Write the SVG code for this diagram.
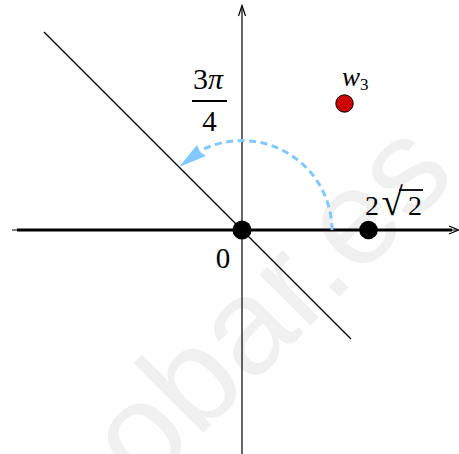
<svg xmlns="http://www.w3.org/2000/svg" width="459" height="454" viewBox="0 0 459 454">
<style>
.ax{stroke:#000;fill:none;stroke-width:1.2}
.math{font-family:"Liberation Serif","Times New Roman",serif;fill:#000}
.dot{fill:#000}
.wm{font-family:"Liberation Sans",Arial,sans-serif;fill:#f0f0f0}
</style>
<rect width="459" height="454" fill="#fff"/>
<g id="watermark">
<text class="wm" font-size="136" transform="translate(349,287) rotate(-45)" x="-291" y="0">obar.es</text>
</g>
<g id="connectors">
<line class="ax" x1="12" y1="230" x2="458" y2="230"/>
<line x1="17" y1="230" x2="452" y2="230" stroke="#000" stroke-width="3"/>
<polyline class="ax" points="449,226 458.5,230 449,234"/>
<line class="ax" x1="242" y1="454" x2="242" y2="6"/>
<polyline class="ax" points="238.5,16 242,5.5 245.5,16"/>
<line class="ax" x1="44" y1="32" x2="351" y2="339"/>
<path d="M332,230 A90,90 0 0 0 200,151" fill="none" stroke="#80c8ff" stroke-width="3" stroke-dasharray="7,4.5"/>
<polygon points="179,167 197,145 200,152 206,156" fill="#80c8ff"/>
</g>
<g id="origin">
<circle class="dot" cx="242" cy="230" r="9.5"/>
<text class="math" x="223" y="268" font-size="29" text-anchor="middle">0</text>
</g>
<g id="point-2sqrt2">
<circle class="dot" cx="368.5" cy="230" r="9.3"/>
<text class="math" x="365" y="214.5" font-size="28">2</text>
<text class="math" x="381.5" y="215" font-size="39">√</text>
<line x1="399" y1="190" x2="423" y2="190" stroke="#000" stroke-width="1.8"/>
<text class="math" x="408" y="214.5" font-size="28">2</text>
</g>
<g id="w3">
<circle cx="344.5" cy="103.5" r="8.7" fill="#cc0000" stroke="#000" stroke-width="1"/>
<text class="math" x="342" y="86" font-size="27" font-style="italic">w<tspan font-size="17" font-style="normal" dy="4">3</tspan></text>
</g>
<g id="angle-label">
<text class="math" x="208" y="89" font-size="30" text-anchor="middle">3<tspan font-style="italic">π</tspan></text>
<line x1="192" y1="101" x2="227" y2="101" stroke="#000" stroke-width="2"/>
<text class="math" x="209.5" y="131" font-size="29" text-anchor="middle">4</text>
</g>
</svg>
